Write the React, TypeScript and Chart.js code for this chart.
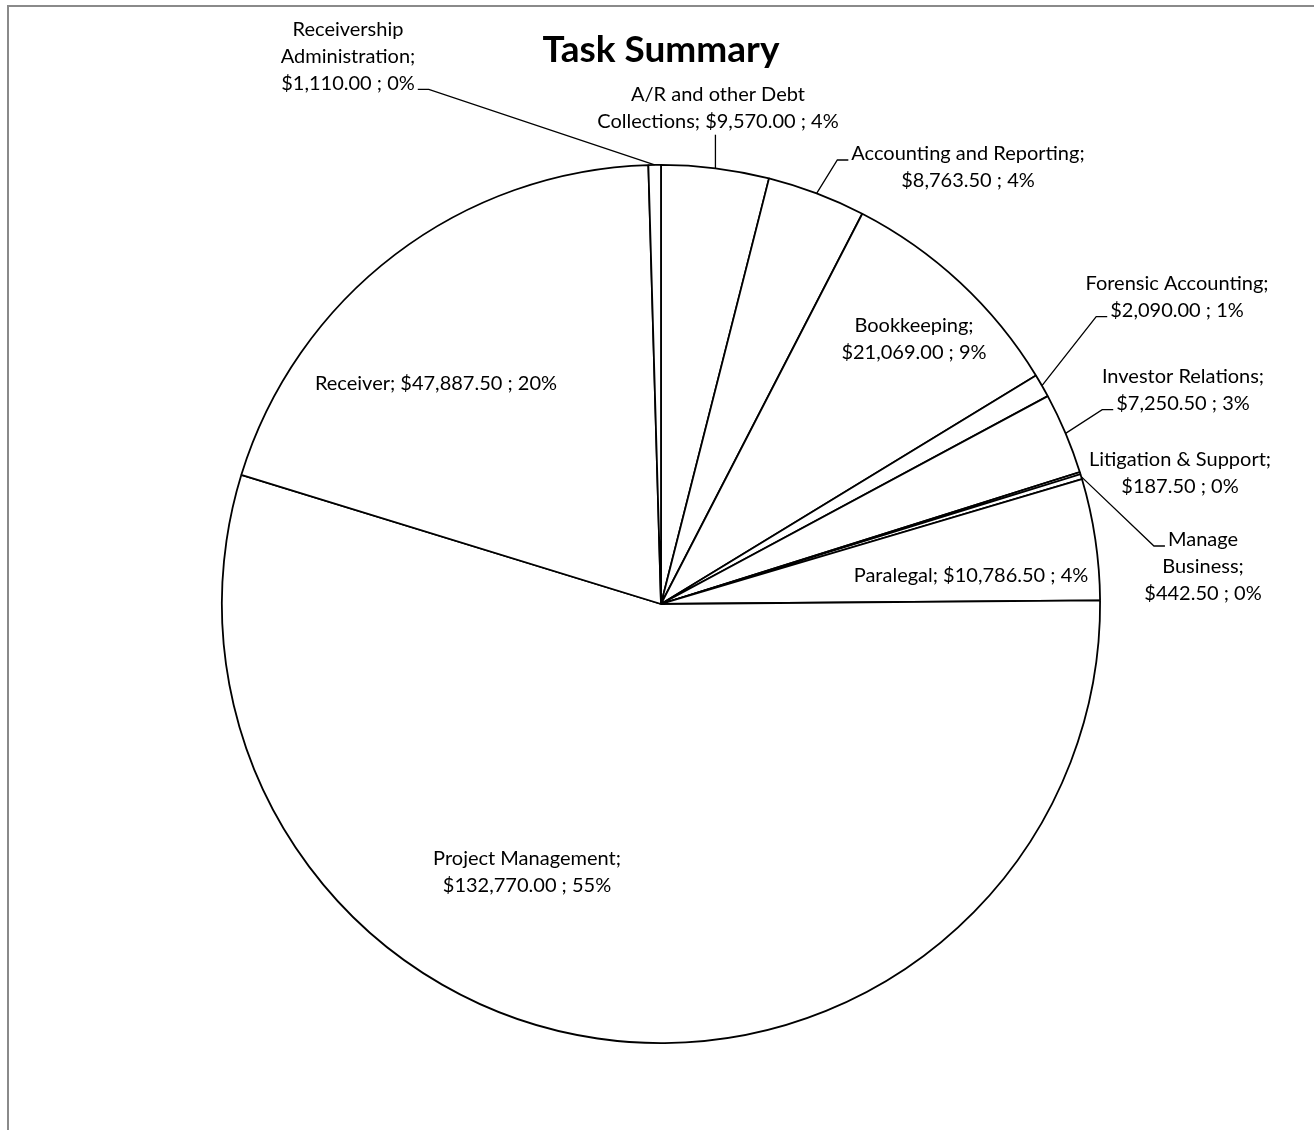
import React, { useEffect, useRef } from "react";
import { Chart, registerables } from "chart.js";

Chart.register(...registerables);

const categories = [
  "A/R and other Debt Collections",
  "Accounting and Reporting",
  "Bookkeeping",
  "Forensic Accounting",
  "Investor Relations",
  "Litigation & Support",
  "Manage Business",
  "Paralegal",
  "Project Management",
  "Receiver",
  "Receivership Administration",
];

const amounts = [
  9570.0, 8763.5, 21069.0, 2090.0, 7250.5, 187.5, 442.5, 10786.5, 132770.0,
  47887.5, 1110.0,
];

const chartTitle = "Task Summary";

// label layout: text block centre offset from pie centre, words per line, leader style
type Leader = "none" | "bottom" | "rightEnd" | "leftLine";
interface LabelLayout {
  dx: number;
  dy: number;
  words: number[];
  leader: Leader;
  leaderLine?: number;
}
const labelLayout: LabelLayout[] = [
  { dx: 57, dy: -509, words: [4, 4], leader: "bottom" },
  { dx: 307, dy: -450, words: [3, 3], leader: "leftLine", leaderLine: 0 },
  { dx: 253, dy: -278, words: [1, 3], leader: "none" },
  { dx: 516, dy: -320, words: [2, 3], leader: "leftLine", leaderLine: 1 },
  { dx: 522, dy: -227, words: [2, 3], leader: "leftLine", leaderLine: 1 },
  { dx: 519, dy: -144, words: [3, 3], leader: "none" },
  { dx: 542, dy: -64, words: [1, 1, 3], leader: "leftLine", leaderLine: 0 },
  { dx: 310, dy: -28, words: [4], leader: "none" },
  { dx: -134, dy: 255, words: [2, 3], leader: "none" },
  { dx: -225, dy: -220, words: [4], leader: "none" },
  { dx: -313, dy: -574, words: [1, 1, 3], leader: "rightEnd", leaderLine: 2 },
];

const LABEL_FONT = "20px Lato";
const LINE_H = 26.7;

const total = amounts.reduce((a, b) => a + b, 0);

function labelLines(i: number): string[] {
  const money =
    "$" +
    amounts[i].toLocaleString("en-US", {
      minimumFractionDigits: 2,
      maximumFractionDigits: 2,
    });
  const pct = Math.round((amounts[i] / total) * 100);
  const words = `${categories[i]}; ${money} ; ${pct}%`.split(" ");
  const lines: string[] = [];
  let k = 0;
  for (const n of labelLayout[i].words) {
    lines.push(words.slice(k, k + n).join(" "));
    k += n;
  }
  return lines;
}

const decorPlugin = {
  id: "decor",
  beforeDraw(chart: any) {
    const ctx = chart.ctx;
    ctx.save();
    ctx.fillStyle = "#ffffff";
    ctx.fillRect(0, 0, chart.width, chart.height);
    ctx.strokeStyle = "#8a8a8a";
    ctx.lineWidth = 2;
    ctx.beginPath();
    ctx.moveTo(8, chart.height);
    ctx.lineTo(8, 6);
    ctx.lineTo(chart.width, 6);
    ctx.stroke();
    ctx.restore();
  },
  afterDatasetsDraw(chart: any) {
    const ctx = chart.ctx;
    const meta = chart.getDatasetMeta(0);
    const first = meta.data[0];
    const cx = first.x;
    const cy = first.y;
    ctx.save();
    // title
    ctx.fillStyle = "#000";
    ctx.textAlign = "center";
    ctx.textBaseline = "middle";
    ctx.font = "bold 37px Lato";
    ctx.fillText(chartTitle, cx, 50);

    ctx.font = LABEL_FONT;
    ctx.strokeStyle = "#000";
    ctx.lineWidth = 1.3;
    meta.data.forEach((arc: any, i: number) => {
      const lay = labelLayout[i];
      const lines = labelLines(i);
      const tx = cx + lay.dx;
      const ty0 = cy + lay.dy;
      lines.forEach((ln, j) => {
        ctx.fillText(ln, tx, ty0 + j * LINE_H);
      });
      if (lay.leader === "none") return;
      const p = arc.getProps(["startAngle", "endAngle", "outerRadius"], true);
      const mid = (p.startAngle + p.endAngle) / 2;
      const ax = cx + Math.cos(mid) * p.outerRadius;
      const ay = cy + Math.sin(mid) * p.outerRadius;
      ctx.beginPath();
      if (lay.leader === "bottom") {
        const by = ty0 + (lines.length - 1) * LINE_H + 13;
        ctx.moveTo(ax, by);
        ctx.lineTo(ax, ay);
      } else {
        const li = lay.leaderLine ?? 0;
        const w = ctx.measureText(lines[li]).width;
        const ly = ty0 + li * LINE_H + 6;
        if (lay.leader === "rightEnd") {
          const sx = tx + w / 2 + 3;
          ctx.moveTo(sx, ly);
          ctx.lineTo(sx + 11, ly);
        } else {
          const sx = tx - w / 2 - 3;
          ctx.moveTo(sx, ly);
          ctx.lineTo(sx - 11, ly);
        }
        ctx.lineTo(ax, ay);
      }
      ctx.stroke();
    });
    ctx.restore();
  },
};

export default function App() {
  const ref = useRef<HTMLCanvasElement | null>(null);
  useEffect(() => {
    if (!ref.current) return;
    const chart = new Chart(ref.current, {
      type: "pie",
      data: {
        labels: categories,
        datasets: [
          {
            data: amounts,
            backgroundColor: "#ffffff",
            borderColor: "#000000",
            borderWidth: 1.8,
          },
        ],
      },
      options: {
        responsive: false,
        animation: false,
        layout: { padding: { left: 221, top: 164, right: 213, bottom: 86 } },
        plugins: {
          legend: { display: false },
          tooltip: { enabled: false },
          title: { display: false },
        },
      },
      plugins: [decorPlugin],
    });
    return () => chart.destroy();
  }, []);
  return (
    <div style={{ position: "absolute", left: 0, top: 0, width: 1314, height: 1130 }}>
      <canvas ref={ref} width={1314} height={1130} />
    </div>
  );
}
